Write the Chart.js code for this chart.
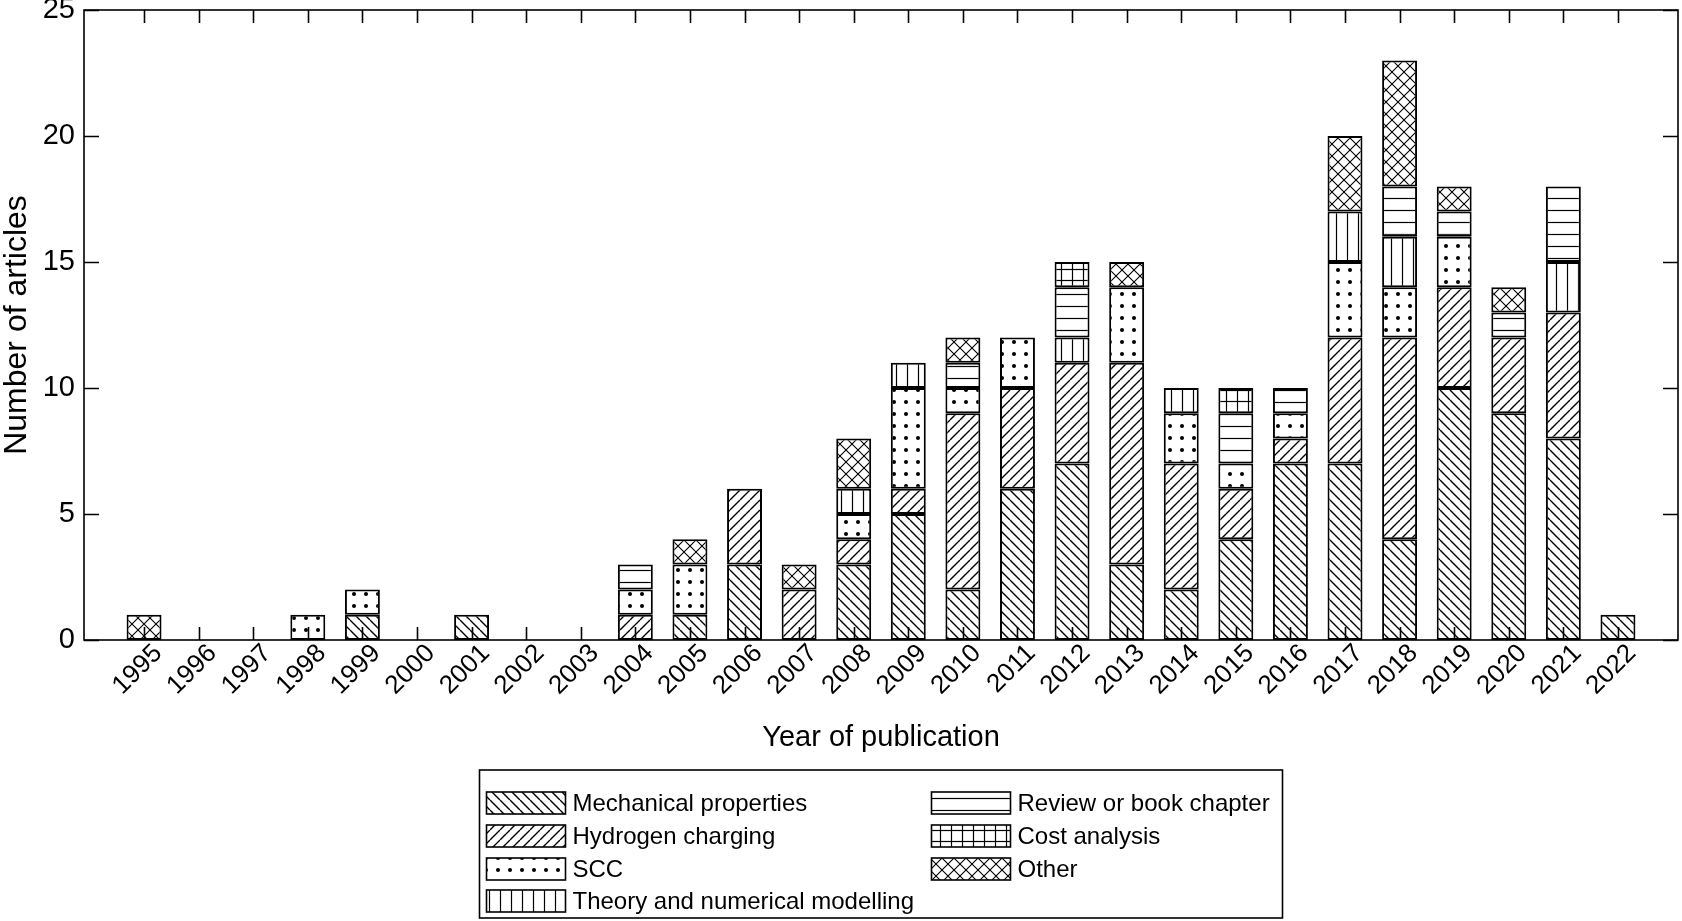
<!DOCTYPE html>
<html>
<head>
<meta charset="utf-8">
<title>Number of articles by year of publication</title>
<script src="https://cdn.jsdelivr.net/npm/chart.js@4.4.1/dist/chart.umd.min.js"></script>
<style>
  html, body { margin: 0; padding: 0; background: #fff; }
  #wrap { width: 1682px; height: 921px; position: relative; }
</style>
</head>
<body>
<div id="wrap"><canvas id="pubChart"></canvas></div>
<script>
// ── Data ──────────────────────────────────────────────────
const years = [1995, 1996, 1997, 1998, 1999, 2000, 2001, 2002, 2003, 2004, 2005, 2006, 2007, 2008,
               2009, 2010, 2011, 2012, 2013, 2014, 2015, 2016, 2017, 2018, 2019, 2020, 2021, 2022];

const mechanical = [0, 0, 0, 0, 1, 0, 1, 0, 0, 0, 1, 3, 0, 3, 5, 2, 6, 7, 3, 2, 4, 7, 7, 4, 10, 9, 8, 1];
const hydrogen   = [0, 0, 0, 0, 0, 0, 0, 0, 0, 1, 0, 3, 2, 1, 1, 7, 4, 4, 8, 5, 2, 1, 5, 8, 4, 3, 5, 0];
const scc        = [0, 0, 0, 1, 1, 0, 0, 0, 0, 1, 2, 0, 0, 1, 4, 1, 2, 0, 3, 2, 1, 1, 3, 2, 2, 0, 0, 0];
const theory     = [0, 0, 0, 0, 0, 0, 0, 0, 0, 0, 0, 0, 0, 1, 1, 0, 0, 1, 0, 1, 0, 0, 2, 2, 0, 0, 2, 0];
const review     = [0, 0, 0, 0, 0, 0, 0, 0, 0, 1, 0, 0, 0, 0, 0, 1, 0, 2, 0, 0, 2, 1, 0, 2, 1, 1, 3, 0];
const cost       = [0, 0, 0, 0, 0, 0, 0, 0, 0, 0, 0, 0, 0, 0, 0, 0, 0, 1, 0, 0, 1, 0, 0, 0, 0, 0, 0, 0];
const other      = [1, 0, 0, 0, 0, 0, 0, 0, 0, 0, 1, 0, 1, 2, 0, 1, 0, 0, 1, 0, 0, 0, 3, 5, 1, 1, 0, 0];

const seriesLabels = ['Mechanical properties', 'Hydrogen charging', 'SCC', 'Theory and numerical modelling',
                      'Review or book chapter', 'Cost analysis', 'Other'];
const seriesValues = [mechanical, hydrogen, scc, theory, review, cost, other];
const yTicks = [0, 5, 10, 15, 20, 25];

const FONT = "'Liberation Sans', Arial, Helvetica, sans-serif";

const canvas = document.getElementById('pubChart');
const ctx = canvas.getContext('2d');

// ── Hatch patterns (black on white) ───────────────────────

function makePattern(size, draw) {
    const tile = document.createElement('canvas');
    tile.width = size;
    tile.height = size;
    const g = tile.getContext('2d');
    g.fillStyle = '#fff';
    g.fillRect(0, 0, size, size);
    g.strokeStyle = '#000';
    g.fillStyle = '#000';
    g.lineWidth = 1.4;
    draw(g, size);
    return ctx.createPattern(tile, 'repeat');
}

const backDiag = (g, s) => {
    g.beginPath();
    [-s, 0, s].forEach(o => { g.moveTo(o, 0); g.lineTo(o + s, s); });
    g.stroke();
};
const fwdDiag = (g, s) => {
    g.beginPath();
    [-s, 0, s].forEach(o => { g.moveTo(o, s); g.lineTo(o + s, 0); });
    g.stroke();
};
const dots = (g, s) => {
    g.beginPath();
    g.arc(s / 2, s / 2, 2, 0, Math.PI * 2);
    g.fill();
};
const vLines = (g, s) => {
    g.lineWidth = 1.2;
    g.beginPath();
    g.moveTo(Math.floor(s / 2) + 0.5, 0);
    g.lineTo(Math.floor(s / 2) + 0.5, s);
    g.stroke();
};
const hLines = (g, s) => {
    g.lineWidth = 1.2;
    g.beginPath();
    g.moveTo(0, Math.floor(s / 2) + 0.5);
    g.lineTo(s, Math.floor(s / 2) + 0.5);
    g.stroke();
};
const grid = (g, s) => { vLines(g, s); hLines(g, s); };
const cross = (g, s) => { g.lineWidth = 1.1; backDiag(g, s); fwdDiag(g, s); };

const patterns = [
    makePattern(10, backDiag),
    makePattern(10, fwdDiag),
    makePattern(12, dots),
    makePattern(11, vLines),
    makePattern(12, hLines),
    makePattern(11, grid),
    makePattern(12, cross)
];

const datasets = seriesLabels.map((label, i) => ({
    label,
    data: years.map((yr, j) => ({ x: yr, y: seriesValues[i][j] || null })),
    backgroundColor: patterns[i],
    borderColor: '#000',
    borderWidth: 2,
    borderSkipped: false,
    categoryPercentage: 1,
    barPercentage: 0.64
}));

// ── Plugins: box with inward ticks, bordered two-column legend ──

const framePlugin = {
    id: 'frame',
    afterDatasetsDraw(chart) {
        const { ctx, chartArea: a, scales: { x, y } } = chart;
        ctx.save();
        ctx.strokeStyle = '#000';
        ctx.lineWidth = 1.6;
        ctx.strokeRect(a.left, a.top, a.right - a.left, a.bottom - a.top);
        ctx.beginPath();
        years.forEach(v => {
            const px = Math.round(x.getPixelForValue(v)) + 0.5;
            ctx.moveTo(px, a.bottom); ctx.lineTo(px, a.bottom - 13);
            ctx.moveTo(px, a.top); ctx.lineTo(px, a.top + 13);
        });
        yTicks.forEach(v => {
            const py = Math.round(y.getPixelForValue(v)) + 0.5;
            ctx.moveTo(a.left, py); ctx.lineTo(a.left + 15, py);
            ctx.moveTo(a.right, py); ctx.lineTo(a.right - 15, py);
        });
        ctx.stroke();
        ctx.restore();
    }
};

const legendBoxPlugin = {
    id: 'legendBox',
    afterDraw(chart) {
        const { ctx, chartArea: a } = chart;
        const boxW = 803, boxH = 148;
        const left = (a.left + a.right) / 2 - boxW / 2;
        const top = 770;
        const colX = [7, 452];
        const rowY = [33, 66, 99, 131];
        const swW = 79, swH = 22;

        ctx.save();
        ctx.fillStyle = '#fff';
        ctx.fillRect(left, top, boxW, boxH);
        ctx.strokeStyle = '#000';
        ctx.lineWidth = 1.6;
        ctx.strokeRect(left, top, boxW, boxH);

        ctx.font = `24px ${FONT}`;
        ctx.textAlign = 'left';
        ctx.textBaseline = 'middle';
        chart.data.datasets.forEach((ds, i) => {
            const col = Math.floor(i / 4), row = i % 4;
            const sx = left + colX[col];
            const cy = top + rowY[row];
            ctx.fillStyle = ds.backgroundColor;
            ctx.fillRect(sx, cy - swH / 2, swW, swH);
            ctx.strokeRect(sx, cy - swH / 2, swW, swH);
            ctx.fillStyle = '#000';
            ctx.fillText(ds.label, sx + swW + 7, cy + 1);
        });
        ctx.restore();
    }
};

Chart.defaults.font.family = FONT;
Chart.defaults.color = '#000';

new Chart(ctx, {
    type: 'bar',
    data: { datasets },
    plugins: [framePlugin, legendBoxPlugin],
    options: {
        responsive: true,
        maintainAspectRatio: false,
        animation: false,
        layout: { padding: { left: 0, right: 4, top: 10, bottom: 169 } },
        plugins: {
            legend: { display: false },
            tooltip: { enabled: false }
        },
        scales: {
            x: {
                type: 'linear',
                stacked: true,
                offset: false,
                min: 1993.9,
                max: 2023.1,
                afterBuildTicks: scale => { scale.ticks = years.map(v => ({ value: v })); },
                afterFit: scale => {
                    scale.height = 112;
                    scale.paddingLeft = 0;
                    scale.paddingRight = 0;
                },
                grid: { display: false, drawTicks: false },
                border: { display: false },
                ticks: {
                    autoSkip: false,
                    minRotation: 45,
                    maxRotation: 45,
                    padding: 0,
                    labelOffset: 14,
                    font: { size: 26, lineHeight: 1 },
                    callback: v => String(v)
                },
                title: {
                    display: true,
                    text: 'Year of publication',
                    font: { size: 29, lineHeight: 1 },
                    padding: { top: 0, bottom: 0 }
                }
            },
            y: {
                stacked: true,
                min: 0,
                max: 25,
                afterFit: scale => {
                    scale.width = 84;
                    scale.paddingTop = 0;
                    scale.paddingBottom = 0;
                },
                grid: { display: false, drawTicks: false },
                border: { display: false },
                ticks: {
                    stepSize: 5,
                    padding: 9,
                    font: { size: 29 }
                },
                title: {
                    display: true,
                    text: 'Number of articles',
                    font: { size: 32, lineHeight: 1 },
                    padding: { top: 1, bottom: 0 }
                }
            }
        }
    }
});
</script>
</body>
</html>
